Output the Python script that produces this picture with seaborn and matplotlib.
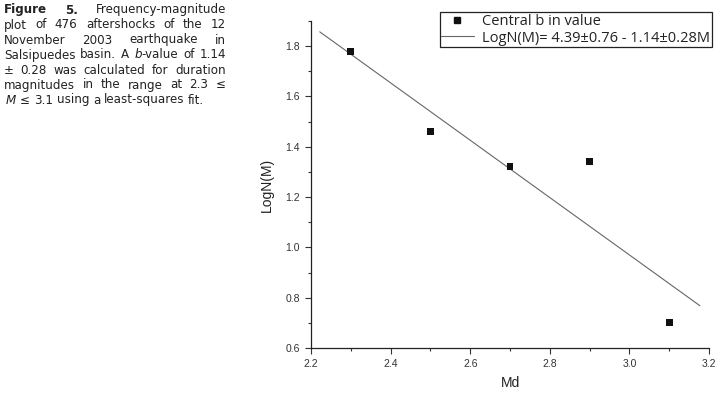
import numpy as np
import pandas as pd
import matplotlib
matplotlib.use("Agg")
import matplotlib.pyplot as plt
import seaborn as sns
from matplotlib.lines import Line2D
from matplotlib.ticker import MultipleLocator

# ----------------------------
# data
# ----------------------------
md = [2.3, 2.5, 2.7, 2.9, 3.1]
log_n = [1.78, 1.46, 1.32, 1.34, 0.70]

fit_a = 4.39      # intercept
fit_b = 1.14      # b-value
fit_x_range = [2.222, 3.177]

point_label = "Central b in value"
fit_label = "LogN(M)= 4.39\u00b10.76 - 1.14\u00b10.28M"

x_ticks = [2.2, 2.4, 2.6, 2.8, 3.0, 3.2]
y_ticks = [0.6, 0.8, 1.0, 1.2, 1.4, 1.6, 1.8]

# caption lines: #..# bold, _.._ italic
caption = [
    "#Figure# #5.# Frequency-magnitude",
    "plot of 476 aftershocks of the 12",
    "November 2003 earthquake in",
    "Salsipuedes basin. A _b_-value of 1.14",
    "\u00b1 0.28 was calculated for duration",
    "magnitudes in the range at 2.3 \u2264",
    "_M_ \u2264 3.1 using a least-squares fit.",
]

# ----------------------------
# plot
# ----------------------------
sns.set_style("ticks")
plt.rcParams["font.family"] = ["Liberation Sans", "DejaVu Sans"]

fig = plt.figure(figsize=(7.2, 3.97), dpi=100)
ax = fig.add_axes([311 / 720, 1 - 348 / 397, 398 / 720, 327 / 397])

pts = pd.DataFrame({"Md": md, "LogN": log_n})
fx = np.array(fit_x_range)
fit = pd.DataFrame({"Md": fx, "LogN": fit_a - fit_b * fx})

sns.lineplot(data=fit, x="Md", y="LogN", ax=ax, color="#666666", lw=0.8)
sns.scatterplot(data=pts, x="Md", y="LogN", ax=ax, marker="s", s=25,
                color="#111111", edgecolor="none", zorder=3)

ax.set_xlim(2.2, 3.2)
ax.set_ylim(0.6, 1.9)
ax.set_xticks(x_ticks)
ax.set_xticklabels([f"{v:.1f}" for v in x_ticks])
ax.set_yticks(y_ticks)
ax.set_yticklabels([f"{v:.1f}" for v in y_ticks])
ax.xaxis.set_minor_locator(MultipleLocator(0.1))
ax.yaxis.set_minor_locator(MultipleLocator(0.1))
ax.tick_params(which="major", length=4, width=0.8, labelsize=7.5,
               colors="#333333", pad=4)
ax.tick_params(which="minor", length=2.5, width=0.8, colors="#333333")
sns.despine(ax=ax)
for s in ["left", "bottom"]:
    ax.spines[s].set_color("#222222")
    ax.spines[s].set_linewidth(0.9)

ax.set_xlabel("Md", fontsize=10, color="#222222", labelpad=5)
ax.set_ylabel("LogN(M)", fontsize=10, color="#222222", labelpad=8)

handles = [
    Line2D([], [], ls="none", marker="s", color="#111111", markersize=4),
    Line2D([], [], color="#666666", lw=0.8),
]
leg = ax.legend(handles, [point_label, fit_label], loc="upper right",
                bbox_to_anchor=(712 / 720, 1 - 12 / 397),
                bbox_transform=fig.transFigure, borderaxespad=0,
                frameon=True, fancybox=False, framealpha=1,
                edgecolor="#222222", handlelength=2.2, handletextpad=0.6,
                borderpad=0.12, labelspacing=0.12,
                prop={"family": ["Open Sans", "DejaVu Sans"], "size": 10.5})
leg.get_frame().set_linewidth(0.9)
for t in leg.get_texts():
    t.set_color("#222222")

# ----------------------------
# caption, justified to a fixed width
# ----------------------------
fig.canvas.draw()
rend = fig.canvas.get_renderer()
cap_left, cap_right = 4, 226
cap_y0, cap_dy = 10, 15
cap_kw = dict(fontsize=8.6, color="#222222", va="center",
              family=["DejaVu Sans"], transform=None)


def pieces(word):
    out, style = [], None
    buf = ""
    for ch in word:
        if ch in "#_":
            if buf:
                out.append((buf, style))
                buf = ""
            style = None if style == ch else ch
        else:
            buf += ch
    if buf:
        out.append((buf, style))
    return out


def draw_word(word, x, y, draw=True):
    w = 0
    for txt, style in pieces(word):
        kw = dict(cap_kw)
        if style == "#":
            kw["fontweight"] = "bold"
        elif style == "_":
            kw["fontstyle"] = "italic"
        t = fig.text(x + w, y, txt, **kw)
        w += t.get_window_extent(rend).width
        if not draw:
            t.remove()
    return w


H = fig.bbox.height
space = draw_word("a a", 0, 0, False) - 2 * draw_word("a", 0, 0, False)
for i, line in enumerate(caption):
    y = H - (cap_y0 + i * cap_dy)
    words = line.split(" ")
    widths = [draw_word(w, 0, 0, draw=False) for w in words]
    if i == len(caption) - 1:
        gap = space
        x = cap_left + 2
    else:
        gap = max((cap_right - cap_left - sum(widths)) / (len(words) - 1), 2.5)
        x = cap_left
    for w, wd in zip(words, widths):
        draw_word(w, x, y)
        x += wd + gap

fig.savefig("out.png", dpi=100)
